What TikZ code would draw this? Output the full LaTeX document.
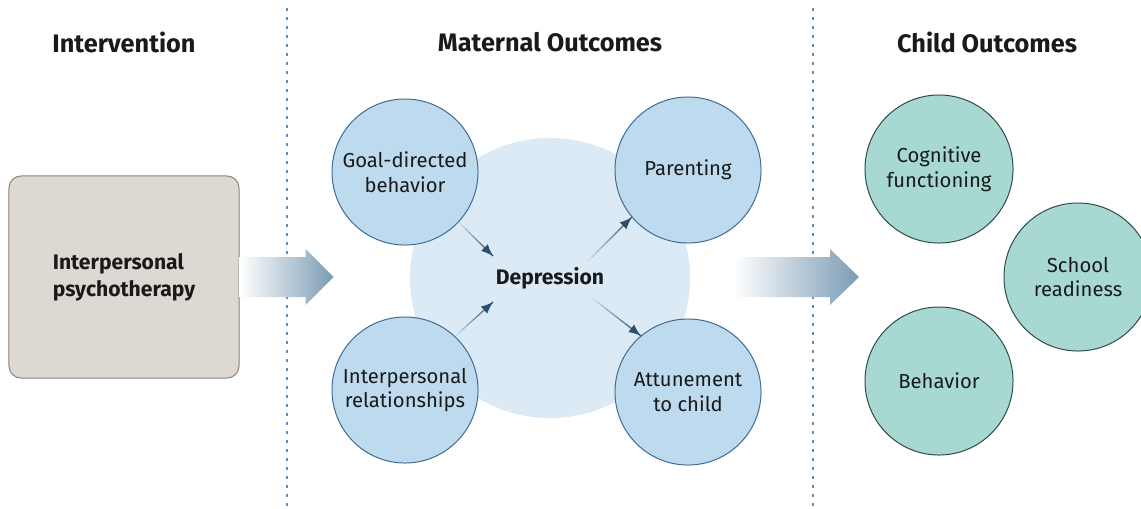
\documentclass[tikz,border=0pt]{standalone}
\usepackage{fontspec}
\setmainfont{Fira Sans}
\usetikzlibrary{arrows.meta, calc}

\definecolor{textcol}{HTML}{1A1A1A}
\definecolor{boxfill}{HTML}{DED8D3}
\definecolor{boxdraw}{HTML}{8C8279}
\definecolor{bluefill}{HTML}{BDDAEE}
\definecolor{bluedraw}{HTML}{3E6B93}
\definecolor{hubfill}{HTML}{DCEAF5}
\definecolor{tealfill}{HTML}{A7D9D2}
\definecolor{tealdraw}{HTML}{2E4A48}
\definecolor{linkcol}{HTML}{2B4F6C}
\definecolor{bigarrow}{HTML}{7B9CB4}
\definecolor{midarrow}{HTML}{BDD7EA}
\definecolor{dotcol}{HTML}{5E8FBF}

% link that fades in from its start
\newcommand\fadelink[2]{%
  \foreach \k in {0,...,9}{
    \pgfmathsetmacro\ka{\k/10}
    \pgfmathsetmacro\kb{(\k+1)/10}
    \draw[link, opacity=\kb] ($(#1)!\ka!(#2)$) -- ($(#1)!\kb!(#2)$);
  }
  \draw[link, -{Latex[length=3mm, width=2.4mm]}] ($(#1)!0.9!(#2)$) -- (#2);
}

\begin{document}
\begin{tikzpicture}[x=0.025cm, y=-0.025cm,
    heading/.style={font=\fontsize{18}{21}\selectfont\bfseries, text=textcol},
    outcome/.style={circle, draw=bluedraw, fill=bluefill, line width=0.7pt, minimum size=3.65cm,
      inner sep=0pt, align=center, text=textcol, font=\fontsize{14.4}{17.7}\selectfont},
    child/.style={outcome, draw=tealdraw, fill=tealfill, minimum size=3.7cm},
    divider/.style={draw=dotcol, line width=0.8pt, dash pattern=on 1.8pt off 4.6pt},
    link/.style={draw=linkcol, line width=0.9pt}]
  \useasboundingbox (0,0) rectangle (1141,508);

  % column dividers
  \draw[divider] (287,8) -- (287,508);
  \draw[divider] (813,8) -- (813,508);

  % headings
  \node[heading] (hint) at (124,42) {Intervention};
  \node[heading] (hmat) at (550,42) {Maternal Outcomes};
  \node[heading] (hchild) at (987,42) {Child Outcomes};

  % intervention
  \node[rectangle, draw=boxdraw, fill=boxfill, line width=0.7pt, rounded corners=8.5pt,
    minimum width=5.75cm, minimum height=5.05cm, align=left, text=textcol,
    font=\fontsize{15}{19}\selectfont\bfseries] (ipt) at (124,277) {Interpersonal\\psychotherapy};

  \shade[left color=white, middle color=midarrow, right color=bigarrow]
    ($(ipt.east)+(0,-20)$) -- ++(66,0) -- ++(0,-8) -- ++(28,28) -- ++(-28,28) -- ++(0,-8) -- ++(-66,0) -- cycle;

  % maternal outcomes
  \node[circle, fill=hubfill, minimum size=7cm] (hub) at (550,278) {};
  \node[outcome] (goal) at (405,172) {Goal-directed\\behavior};
  \node[outcome] (rel) at (405,390) {Interpersonal\\relationships};
  \node[outcome] (par) at (688,170) {Parenting};
  \node[outcome] (att) at (688,392) {Attunement\\to child};
  \node[font=\fontsize{15}{18}\selectfont\bfseries, text=textcol] (dep) at (550,278) {Depression};

  \coordinate (goalend) at (493,256);
  \coordinate (relend) at (493,302);
  \coordinate (parstart) at (588,261);
  \coordinate (attstart) at (592,298);
  \fadelink{goal.-43}{goalend}
  \fadelink{rel.47}{relend}
  \fadelink{parstart}{par.-140}
  \fadelink{attstart}{att.130}

  \shade[left color=white, middle color=midarrow, right color=bigarrow]
    (733,257) -- ++(97,0) -- ++(0,-8) -- ++(29,28) -- ++(-29,28) -- ++(0,-8) -- ++(-97,0) -- cycle;

  % child outcomes
  \node[child] (cog) at (939,169) {Cognitive\\functioning};
  \node[child] (school) at (1078,277) {School\\readiness};
  \node[child] (beh) at (939,381) {Behavior};
\end{tikzpicture}
\end{document}
